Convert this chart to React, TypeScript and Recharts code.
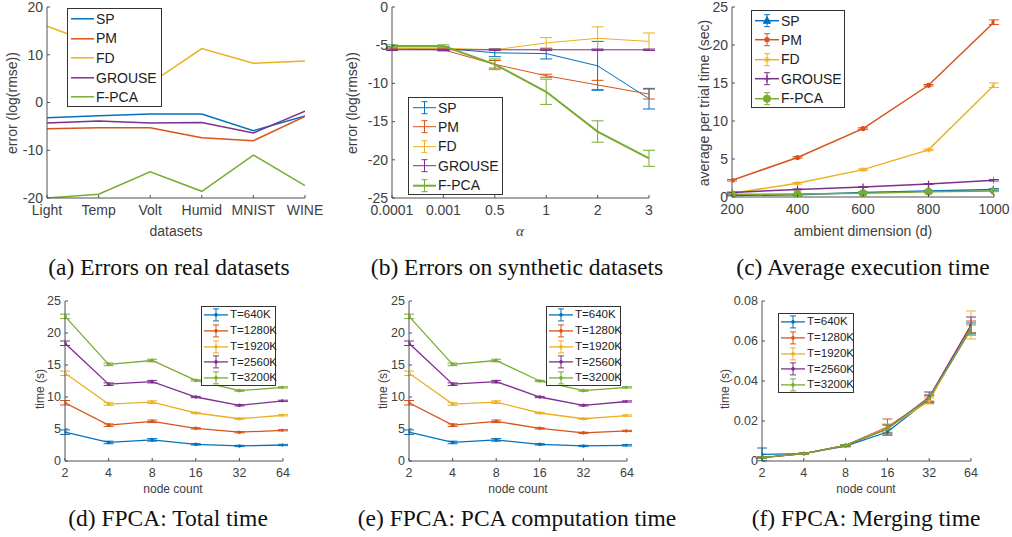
import React from "react";
import { LineChart, Line, XAxis, YAxis, ErrorBar } from "recharts";

const BLUE = "#0072BD";
const ORANGE = "#D95319";
const YELLOW = "#EDB120";
const PURPLE = "#7E2F8E";
const GREEN = "#77AC30";
const AXIS = "#505050";
const SANS = "'Liberation Sans', Arial, sans-serif";
const SERIF = "'Liberation Serif', 'Times New Roman', serif";

// (a) real datasets
const datasets = ["Light", "Temp", "Volt", "Humid", "MNIST", "WINE"];
const realSP = [-3.2, -2.8, -2.4, -2.4, -5.9, -2.8];
const realPM = [-5.5, -5.3, -5.3, -7.4, -8.0, -2.9];
const realFD = [16, 12, 4, 11.3, 8.2, 8.7];
const realGROUSE = [-4.3, -3.9, -4.3, -4.2, -6.4, -1.8];
const realFPCA = [-20, -19.2, -14.5, -18.6, -11.0, -17.4];

// (b) synthetic datasets
const alphas = ["0.0001", "0.001", "0.5", "1", "2", "3"];
const synSP = [-5.4, -5.4, -6.0, -6.1, -7.7, -12.0];
const synSPErr = [0.2, 0.2, 0.5, 0.7, 3.2, 1.35];
const synPM = [-5.5, -5.6, -7.5, -9.0, -10.2, -11.4];
const synPMErr = [0.15, 0.15, 0.5, 0.2, 0.6, 0.65];
const synFD = [-5.4, -5.4, -5.6, -4.7, -4.1, -4.5];
const synFDErr = [0.1, 0.1, 0.1, 0.7, 1.5, 1.1];
const synGROUSE = [-5.6, -5.6, -5.6, -5.6, -5.6, -5.6];
const synGROUSEErr = [0.1, 0.1, 0.1, 0.1, 0.1, 0.1];
const synFPCA = [-5.1, -5.1, -7.5, -11.1, -16.3, -19.8];
const synFPCAErr = [0.15, 0.15, 0.7, 1.65, 1.4, 1.05];

// (c) execution time
const dims = [200, 400, 600, 800, 1000];
const timeSP = [0.2, 0.3, 0.6, 0.8, 1.0];
const timePM = [2.2, 5.2, 9.0, 14.7, 23.0];
const timeFD = [0.5, 1.8, 3.6, 6.2, 14.7];
const timeGROUSE = [0.6, 1.0, 1.3, 1.7, 2.2];
const timeFPCA = [0.35, 0.4, 0.5, 0.7, 0.8];
const timePMErr = [0.1, 0.1, 0.1, 0.1, 0.3];
const timeFDErr = [0.05, 0.1, 0.1, 0.1, 0.3];
const timeSmallErr = [0.05, 0.05, 0.05, 0.05, 0.1];

// (d)(e)(f) node counts
const nodes = ["2", "4", "8", "16", "32", "64"];
const tLabels = ["T=640K", "T=1280K", "T=1920K", "T=2560K", "T=3200K"];
const total640 = [4.5, 2.9, 3.3, 2.6, 2.35, 2.5];
const total1280 = [9.1, 5.6, 6.2, 5.1, 4.5, 4.8];
const total1920 = [13.7, 8.9, 9.2, 7.5, 6.6, 7.15];
const total2560 = [18.4, 12.0, 12.4, 10.0, 8.7, 9.4];
const total3200 = [22.6, 15.1, 15.7, 12.6, 11.0, 11.5];
const pca640 = [4.5, 2.9, 3.3, 2.6, 2.35, 2.45];
const pca1280 = [9.1, 5.6, 6.2, 5.1, 4.4, 4.7];
const pca1920 = [13.7, 8.9, 9.2, 7.5, 6.6, 7.1];
const pca2560 = [18.4, 12.0, 12.4, 10.0, 8.7, 9.3];
const pca3200 = [22.6, 15.1, 15.7, 12.5, 11.0, 11.5];
const timeErr = [0.35, 0.2, 0.2, 0.1, 0.1, 0.1];
const merge640 = [0.0033, 0.0037, 0.0075, 0.0145, 0.031, 0.066];
const merge1280 = [0.0017, 0.0037, 0.0078, 0.017, 0.031, 0.067];
const merge1920 = [0.0017, 0.0037, 0.0078, 0.0165, 0.030, 0.068];
const merge2560 = [0.0017, 0.0037, 0.0078, 0.016, 0.032, 0.068];
const merge3200 = [0.0017, 0.0037, 0.0078, 0.016, 0.0315, 0.066];
const merge640Err = [0.0032, 0.0003, 0.0004, 0.0015, 0.002, 0.003];
const merge1280Err = [0.0003, 0.0003, 0.0004, 0.004, 0.0015, 0.003];
const merge1920Err = [0.0003, 0.0003, 0.0004, 0.002, 0.0015, 0.007];
const merge2560Err = [0.0003, 0.0003, 0.0004, 0.002, 0.0025, 0.004];
const merge3200Err = [0.0003, 0.0003, 0.0004, 0.002, 0.0015, 0.002];

const COLORS = [BLUE, ORANGE, YELLOW, PURPLE, GREEN];
const METHODS = ["SP", "PM", "FD", "GROUSE", "F-PCA"];

function rows(xs: (string | number)[], cols: Record<string, number[]>) {
  return xs.map((x, i) => {
    const r: any = { i, x };
    Object.keys(cols).forEach((k) => (r[k] = cols[k][i]));
    return r;
  });
}

const realData = rows(datasets, { s0: realSP, s1: realPM, s2: realFD, s3: realGROUSE, s4: realFPCA });
const synData = rows(alphas, {
  s0: synSP, s1: synPM, s2: synFD, s3: synGROUSE, s4: synFPCA,
  e0: synSPErr, e1: synPMErr, e2: synFDErr, e3: synGROUSEErr, e4: synFPCAErr,
});
const timeData = rows(dims, {
  s0: timeSP, s1: timePM, s2: timeFD, s3: timeGROUSE, s4: timeFPCA,
  e0: timeSmallErr, e1: timePMErr, e2: timeFDErr, e3: timeSmallErr, e4: timeSmallErr,
});
const totalData = rows(nodes, {
  s0: total640, s1: total1280, s2: total1920, s3: total2560, s4: total3200,
  e0: timeErr, e1: timeErr, e2: timeErr, e3: timeErr, e4: timeErr,
});
const pcaData = rows(nodes, {
  s0: pca640, s1: pca1280, s2: pca1920, s3: pca2560, s4: pca3200,
  e0: timeErr, e1: timeErr, e2: timeErr, e3: timeErr, e4: timeErr,
});
const mergeData = rows(nodes, {
  s0: merge640, s1: merge1280, s2: merge1920, s3: merge2560, s4: merge3200,
  e0: merge640Err, e1: merge1280Err, e2: merge1920Err, e3: merge2560Err, e4: merge3200Err,
});

type Marker = "none" | "tri" | "dot" | "star" | "plus" | "circle" | "small";

function drawMarker(kind: Marker, x: number, y: number, c: string, key?: any) {
  switch (kind) {
    case "tri":
      return <path key={key} d={`M${x},${y - 4}L${x + 3.6},${y + 2.6}L${x - 3.6},${y + 2.6}Z`} fill={c} stroke={c} />;
    case "dot":
      return <circle key={key} cx={x} cy={y} r={2.6} fill={c} stroke="none" />;
    case "star":
      return (
        <g key={key} stroke={c} strokeWidth={1}>
          <line x1={x - 2.5} x2={x + 2.5} y1={y} y2={y} />
          <line x1={x} x2={x} y1={y - 2.5} y2={y + 2.5} />
          <line x1={x - 2} x2={x + 2} y1={y - 2} y2={y + 2} />
          <line x1={x - 2} x2={x + 2} y1={y + 2} y2={y - 2} />
        </g>
      );
    case "plus":
      return (
        <g key={key} stroke={c} strokeWidth={1.3}>
          <line x1={x - 3.5} x2={x + 3.5} y1={y} y2={y} />
          <line x1={x} x2={x} y1={y - 3.5} y2={y + 3.5} />
        </g>
      );
    case "circle":
      return <circle key={key} cx={x} cy={y} r={3.6} fill={c} stroke={c} />;
    case "small":
      return <circle key={key} cx={x} cy={y} r={1.8} fill={c} stroke="none" />;
    default:
      return <g key={key} />;
  }
}

type Series = { key: string; color: string; width: number; err?: string; marker: Marker; label: string };

type Rect = { l: number; t: number; r: number; b: number };

function Panel(props: {
  rect: Rect; data: any[]; xKey: string; xDomain: number[]; xTicks: number[];
  xFormat: (v: number) => string; yDomain: number[]; yTicks: number[];
  yFormat?: (v: number) => string; series: Series[]; fs: number; capW?: number;
}) {
  const { rect, data, xKey, xDomain, xTicks, xFormat, yDomain, yTicks, yFormat, series, fs } = props;
  const YW = 60, MT = 10, MR = 30, XH = 30;
  const w = rect.r - rect.l;
  const h = rect.b - rect.t;
  const plotB = MT + h;
  const capW = props.capW ?? 6;
  return (
    <div style={{ position: "absolute", left: rect.l - YW, top: rect.t - MT }}>
      <LineChart width={YW + w + MR} height={MT + h + XH} data={data} margin={{ top: MT, right: MR, left: 0, bottom: 0 }}>
        <XAxis
          dataKey={xKey}
          type="number"
          domain={xDomain}
          ticks={xTicks}
          allowDataOverflow
          interval={0}
          height={XH}
          stroke={AXIS}
          tickLine={false}
          tick={(p: any) => (
            <g key={p.index}>
              <line x1={p.x} x2={p.x} y1={plotB} y2={plotB - 3} stroke={AXIS} />
              <text x={p.x} y={plotB + fs + 3} textAnchor="middle" fontSize={fs} fill="#404040" fontFamily={SANS}>
                {xFormat(p.payload.value)}
              </text>
            </g>
          )}
        />
        <YAxis
          type="number"
          domain={yDomain}
          ticks={yTicks}
          allowDataOverflow
          interval={0}
          width={YW}
          stroke={AXIS}
          tickLine={false}
          tick={(p: any) => (
            <g key={p.index}>
              <line x1={YW} x2={YW + 3} y1={p.y} y2={p.y} stroke={AXIS} />
              <text x={YW - 4} y={p.y + fs * 0.34} textAnchor="end" fontSize={fs} fill="#404040" fontFamily={SANS}>
                {yFormat ? yFormat(p.payload.value) : String(p.payload.value)}
              </text>
            </g>
          )}
        />
        {series.map((s) => (
          <Line
            key={s.key}
            dataKey={s.key}
            stroke={s.color}
            strokeWidth={s.width}
            isAnimationActive={false}
            activeDot={false}
            dot={
              s.marker === "none"
                ? false
                : (p: any) => (p.cx == null ? <g key={p.index} /> : drawMarker(s.marker, p.cx, p.cy, s.color, p.index))
            }
          >
            {s.err ? (
              <ErrorBar dataKey={s.err} direction="y" width={capW} stroke={s.color} strokeWidth={1} isAnimationActive={false} />
            ) : null}
          </Line>
        ))}
      </LineChart>
    </div>
  );
}

function LegendBox(props: {
  left: number; top: number; width: number; rowH: number; fs: number;
  series: Series[]; errBars: boolean; lineX: [number, number];
}) {
  const { left, top, width, rowH, fs, series, errBars, lineX } = props;
  const sw = lineX[1] + 2;
  return (
    <div
      style={{
        position: "absolute", left, top, width, height: rowH * series.length + 1,
        border: "1px solid #333", background: "#fff", boxSizing: "border-box",
        fontFamily: SANS, fontSize: fs, color: "#222",
      }}
    >
      {series.map((s, i) => {
        const cy = rowH / 2;
        const mx = (lineX[0] + lineX[1]) / 2;
        return (
          <div key={s.key} style={{ position: "absolute", left: 0, top: i * rowH, height: rowH, display: "flex", alignItems: "center" }}>
            <svg width={sw} height={rowH} style={{ display: "block" }}>
              <line x1={lineX[0]} x2={lineX[1]} y1={cy} y2={cy} stroke={s.color} strokeWidth={s.width} />
              {errBars ? (
                <g stroke={s.color} strokeWidth={1}>
                  <line x1={mx} x2={mx} y1={cy - 6} y2={cy + 6} />
                  <line x1={mx - 3} x2={mx + 3} y1={cy - 6} y2={cy - 6} />
                  <line x1={mx - 3} x2={mx + 3} y1={cy + 6} y2={cy + 6} />
                </g>
              ) : null}
              {drawMarker(s.marker, mx, cy, s.color)}
            </svg>
            <span style={{ whiteSpace: "nowrap", lineHeight: 1 }}>{s.label}</span>
          </div>
        );
      })}
    </div>
  );
}

function Txt(props: { x: number; y: number; text: React.ReactNode; fs: number; font?: string; rotate?: boolean; italic?: boolean; color?: string }) {
  const { x, y, text, fs, font, rotate, italic, color } = props;
  return (
    <div
      style={{
        position: "absolute", left: x, top: y, whiteSpace: "nowrap",
        transform: `translate(-50%, -50%)${rotate ? " rotate(-90deg)" : ""}`,
        fontFamily: font ?? SANS, fontSize: fs, color: color ?? "#404040",
        fontStyle: italic ? "italic" : "normal", lineHeight: 1,
      }}
    >
      {text}
    </div>
  );
}

const idx = [0, 1, 2, 3, 4, 5];
const mk = (markers: Marker[], widths: number[], errs: boolean, labels: string[]): Series[] =>
  COLORS.map((c, i) => ({
    key: `s${i}`, color: c, width: widths[i], err: errs ? `e${i}` : undefined, marker: markers[i], label: labels[i],
  }));

const seriesA = mk(["none", "none", "none", "none", "none"], [1.5, 1.5, 1.5, 1.5, 1.5], false, METHODS);
const seriesB = mk(["none", "none", "none", "none", "none"], [1, 1, 1, 1, 2], true, METHODS);
const seriesC = mk(["tri", "dot", "star", "plus", "circle"], [1.5, 1.5, 1.5, 1.5, 1.5], true, METHODS);
const seriesT = mk(["small", "small", "small", "small", "small"], [1.3, 1.3, 1.3, 1.3, 1.3], true, tLabels);

const CAP = 23.5;

export default function App() {
  return (
    <div style={{ position: "absolute", left: 0, top: 0, width: 1012, height: 537, background: "#fff", overflow: "hidden" }}>
      {/* (a) */}
      <Panel rect={{ l: 47, t: 7, r: 305, b: 198 }} data={realData} xKey="i" xDomain={[0, 5]} xTicks={idx}
        xFormat={(v) => datasets[v]} yDomain={[-20, 20]} yTicks={[-20, -10, 0, 10, 20]} series={seriesA} fs={14} />
      <LegendBox left={67} top={8} width={95} rowH={19.6} fs={14} series={seriesA} errBars={false} lineX={[3, 26]} />
      <Txt x={12} y={103} text="error (log(rmse))" fs={14} rotate />
      <Txt x={176} y={231} text="datasets" fs={14} />
      <Txt x={169} y={268} text="(a) Errors on real datasets" fs={CAP} font={SERIF} color="#111" />

      {/* (b) */}
      <Panel rect={{ l: 392, t: 7, r: 649, b: 198 }} data={synData} xKey="i" xDomain={[0, 5]} xTicks={idx}
        xFormat={(v) => alphas[v]} yDomain={[-25, 0]} yTicks={[-25, -20, -15, -10, -5, 0]} series={seriesB} fs={14} />
      <LegendBox left={408} top={97} width={95} rowH={19.4} fs={14} series={seriesB} errBars lineX={[4, 27]} />
      <Txt x={352} y={103} text="error (log(rmse))" fs={14} rotate />
      <Txt x={520} y={231} text="α" fs={15} font={SERIF} italic />
      <Txt x={517} y={268} text="(b) Errors on synthetic datasets" fs={CAP} font={SERIF} color="#111" />

      {/* (c) */}
      <Panel rect={{ l: 732, t: 7, r: 994, b: 197 }} data={timeData} xKey="x" xDomain={[200, 1000]} xTicks={dims}
        xFormat={(v) => String(v)} yDomain={[0, 25]} yTicks={[0, 5, 10, 15, 20, 25]} series={seriesC} fs={14} capW={5} />
      <LegendBox left={751} top={10} width={94} rowH={19.4} fs={14} series={seriesC} errBars lineX={[3, 27]} />
      <Txt x={704} y={103} text="average per trial time (sec)" fs={14} rotate />
      <Txt x={863} y={231} text="ambient dimension (d)" fs={14} />
      <Txt x={863} y={268} text="(c) Average execution time" fs={CAP} font={SERIF} color="#111" />

      {/* (d) */}
      <Panel rect={{ l: 65, t: 301, r: 283, b: 461 }} data={totalData} xKey="i" xDomain={[0, 5]} xTicks={idx}
        xFormat={(v) => nodes[v]} yDomain={[0, 25]} yTicks={[0, 5, 10, 15, 20, 25]} series={seriesT} fs={12.5} capW={5} />
      <LegendBox left={201} top={306} width={75} rowH={15.8} fs={11.5} series={seriesT} errBars lineX={[2, 26]} />
      <Txt x={40} y={389} text="time (s)" fs={12} rotate />
      <Txt x={173} y={489} text="node count" fs={12} />
      <Txt x={168} y={519} text="(d) FPCA: Total time" fs={CAP} font={SERIF} color="#111" />

      {/* (e) */}
      <Panel rect={{ l: 409, t: 301, r: 627, b: 461 }} data={pcaData} xKey="i" xDomain={[0, 5]} xTicks={idx}
        xFormat={(v) => nodes[v]} yDomain={[0, 25]} yTicks={[0, 5, 10, 15, 20, 25]} series={seriesT} fs={12.5} capW={5} />
      <LegendBox left={546} top={306} width={75} rowH={15.8} fs={11.5} series={seriesT} errBars lineX={[2, 26]} />
      <Txt x={383} y={389} text="time (s)" fs={12} rotate />
      <Txt x={518} y={489} text="node count" fs={12} />
      <Txt x={517} y={519} text="(e) FPCA: PCA computation time" fs={CAP} font={SERIF} color="#111" />

      {/* (f) */}
      <Panel rect={{ l: 762, t: 301, r: 971, b: 461 }} data={mergeData} xKey="i" xDomain={[0, 5]} xTicks={idx}
        xFormat={(v) => nodes[v]} yDomain={[0, 0.08]} yTicks={[0, 0.02, 0.04, 0.06, 0.08]}
        yFormat={(v) => (v === 0 ? "0" : v.toFixed(2))} series={seriesT} fs={12.5} capW={5} />
      <LegendBox left={778} top={313} width={76} rowH={15.8} fs={11.5} series={seriesT} errBars lineX={[2, 26]} />
      <Txt x={725} y={389} text="time (s)" fs={12} rotate />
      <Txt x={866} y={489} text="node count" fs={12} />
      <Txt x={866} y={519} text="(f) FPCA: Merging time" fs={CAP} font={SERIF} color="#111" />
    </div>
  );
}
